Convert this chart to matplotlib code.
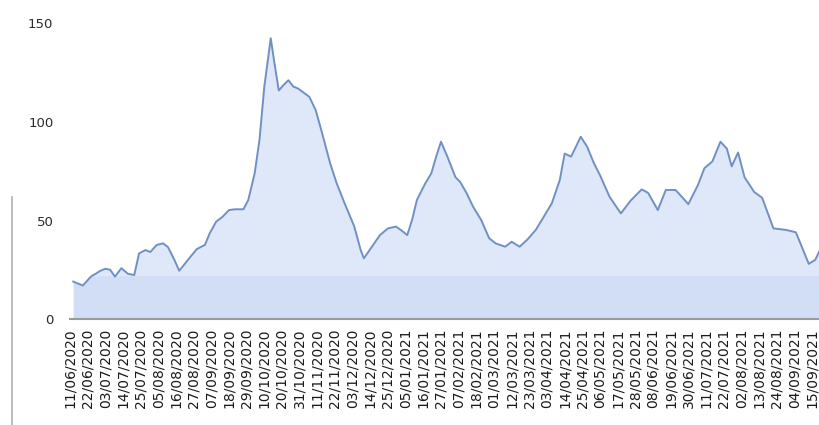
import matplotlib
matplotlib.use("Agg")
import matplotlib.pyplot as plt
from matplotlib.lines import Line2D
import numpy as np

# day offsets from 11/06/2020 and the values
days = [2, 8, 13, 19, 22, 25, 28, 32, 36, 40, 43, 47, 50, 54, 58, 61, 65, 68, 71, 75,
        79, 84, 87, 91, 95, 99, 103, 108, 111, 115, 118, 121, 125, 127, 130, 133, 136,
        139, 142, 149, 153, 157, 162, 166, 171, 177, 181, 183, 188, 193, 198, 203, 206,
        210, 213, 216, 221, 225, 228, 231, 235, 240, 243, 247, 251, 256, 261, 265, 271,
        275, 280, 285, 290, 295, 300, 305, 308, 312, 318, 322, 326, 330, 336, 343, 349,
        356, 360, 366, 371, 377, 381, 385, 391, 395, 400, 405, 409, 412, 416, 420, 426,
        431, 438, 446, 452, 460, 464, 467]
values = [19, 17, 21.5, 24.5, 25.5, 25, 21.5, 25.8, 23, 22.3, 33.3, 35, 34, 37.6, 38.4,
          36.5, 30, 24.5, 27.5, 31.6, 35.5, 37.6, 43.5, 49.4, 51.9, 55.3, 55.7, 55.7, 60.4,
          74, 91, 118, 142.5, 131.5, 116, 118.8, 121.2, 118, 117, 112.8, 106, 94.3, 79, 69,
          58.7, 47, 35, 30.8, 36.7, 42.6, 46, 46.9, 45.2, 42.6, 50.3, 60.4, 68.5, 74, 82.4,
          90, 82.4, 72, 69.5, 63.8, 57, 50.3, 41, 38.4, 36.7, 39.2, 36.7, 40.5, 45.2, 51.9,
          58.7, 70.6, 84, 82.4, 92.5, 87.5, 79.5, 73, 62, 53.6, 60, 65.8, 64, 55.3, 65.5,
          65.5, 62, 58.3, 68, 76.5, 80, 90, 86.5, 77.5, 84.5, 72, 64.5, 61.5, 46, 45.2, 44,
          28, 30, 35]

tick_labels = ["11/06/2020", "22/06/2020", "03/07/2020", "14/07/2020", "25/07/2020",
               "05/08/2020", "16/08/2020", "27/08/2020", "07/09/2020", "18/09/2020",
               "29/09/2020", "10/10/2020", "20/10/2020", "31/10/2020", "11/11/2020",
               "22/11/2020", "03/12/2020", "14/12/2020", "25/12/2020", "05/01/2021",
               "16/01/2021", "27/01/2021", "07/02/2021", "18/02/2021", "01/03/2021",
               "12/03/2021", "23/03/2021", "03/04/2021", "14/04/2021", "25/04/2021",
               "06/05/2021", "17/05/2021", "28/05/2021", "08/06/2021", "19/06/2021",
               "30/06/2021", "11/07/2021", "22/07/2021", "02/08/2021", "13/08/2021",
               "24/08/2021", "04/09/2021", "15/09/2021"]
y_ticks = [0, 50, 100, 150]

plt.rcParams['font.family'] = ['DejaVu Sans']

fig = plt.figure(figsize=(8.2, 4.25), dpi=100)
ax = fig.add_axes([70 / 820, 106 / 425, 750 / 820, (319 - 23.5) / 425])

x = np.array(days, dtype=float)
y = np.array(values, dtype=float)
ax.fill_between(x, 0, y, color='#dfe8f8', lw=0, zorder=1)
ax.fill_between(x, 0, np.minimum(y, 22), color='#d2def5', lw=0, zorder=2)
ax.plot(x, y, color='#7090c4', lw=1.4, zorder=3)

ax.set_xlim(2, 467)
ax.set_ylim(0, 150)

for s in ['top', 'right', 'left']:
    ax.spines[s].set_visible(False)
ax.spines['bottom'].set_color('#9a9a9a')
ax.spines['bottom'].set_linewidth(1.5)

ax.set_xticks([11 * i for i in range(len(tick_labels))])
ax.set_xticklabels(tick_labels, rotation=90, fontsize=10, color='#1a1a1a')
ax.set_yticks(y_ticks)
ax.set_yticklabels([str(t) for t in y_ticks], fontsize=9.5, color='#2a2a2a')
ax.tick_params(axis='x', length=0, pad=7)
ax.tick_params(axis='y', length=0, pad=12)

fig.add_artist(Line2D([12 / 820, 12 / 820], [0, (425 - 197) / 425],
                      color='#b0b0b0', lw=1.2, transform=fig.transFigure))

fig.savefig('out.png', dpi=100)
